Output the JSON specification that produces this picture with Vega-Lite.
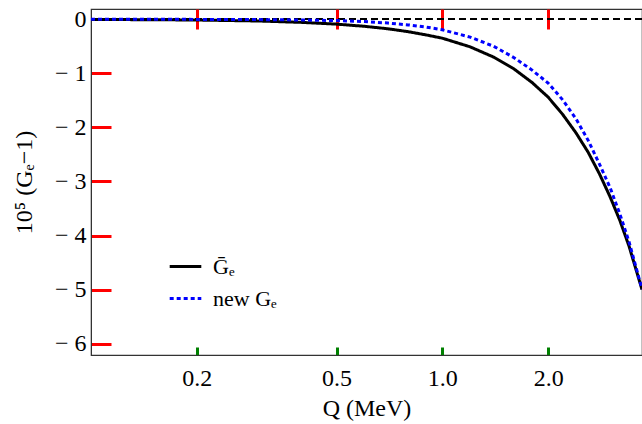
{
  "$schema": "https://vega.github.io/schema/vega-lite/v6.json",
  "width": 551,
  "height": 346,
  "autosize": "none",
  "padding": {"left": 91, "top": 9, "right": 0, "bottom": 69},
  "background": "white",
  "config": {
    "view": {"stroke": "#333", "strokeWidth": 1.2},
    "font": "Liberation Serif",
    "axis": {"grid": false, "labelFontSize": 24, "titleFontSize": 24, "titleFontWeight": "normal", "labelColor": "black", "titleColor": "black"},
    "legend": {"labelFont": "Liberation Serif", "labelFontSize": 22, "labelColor": "black"}
  },
  "data": {
    "values": [
      {"Q": 0.1, "series": "Ḡₑ", "v": -0.004},
      {"Q": 0.15, "series": "Ḡₑ", "v": -0.008},
      {"Q": 0.2, "series": "Ḡₑ", "v": -0.014},
      {"Q": 0.3, "series": "Ḡₑ", "v": -0.032},
      {"Q": 0.4, "series": "Ḡₑ", "v": -0.058},
      {"Q": 0.5, "series": "Ḡₑ", "v": -0.09},
      {"Q": 0.6, "series": "Ḡₑ", "v": -0.13},
      {"Q": 0.7, "series": "Ḡₑ", "v": -0.176},
      {"Q": 0.8, "series": "Ḡₑ", "v": -0.23},
      {"Q": 0.9, "series": "Ḡₑ", "v": -0.29},
      {"Q": 1.0, "series": "Ḡₑ", "v": -0.35},
      {"Q": 1.2, "series": "Ḡₑ", "v": -0.51},
      {"Q": 1.4, "series": "Ḡₑ", "v": -0.70},
      {"Q": 1.6, "series": "Ḡₑ", "v": -0.92},
      {"Q": 1.8, "series": "Ḡₑ", "v": -1.17},
      {"Q": 2.0, "series": "Ḡₑ", "v": -1.44},
      {"Q": 2.2, "series": "Ḡₑ", "v": -1.76},
      {"Q": 2.4, "series": "Ḡₑ", "v": -2.10},
      {"Q": 2.6, "series": "Ḡₑ", "v": -2.46},
      {"Q": 2.8, "series": "Ḡₑ", "v": -2.86},
      {"Q": 3.0, "series": "Ḡₑ", "v": -3.28},
      {"Q": 3.2, "series": "Ḡₑ", "v": -3.72},
      {"Q": 3.4, "series": "Ḡₑ", "v": -4.20},
      {"Q": 3.7, "series": "Ḡₑ", "v": -5.00},
      {"Q": 0.1, "series": "new Gₑ", "v": -0.0005},
      {"Q": 0.15, "series": "new Gₑ", "v": -0.001},
      {"Q": 0.2, "series": "new Gₑ", "v": -0.002},
      {"Q": 0.3, "series": "new Gₑ", "v": -0.006},
      {"Q": 0.4, "series": "new Gₑ", "v": -0.013},
      {"Q": 0.5, "series": "new Gₑ", "v": -0.025},
      {"Q": 0.6, "series": "new Gₑ", "v": -0.043},
      {"Q": 0.7, "series": "new Gₑ", "v": -0.07},
      {"Q": 0.8, "series": "new Gₑ", "v": -0.104},
      {"Q": 0.9, "series": "new Gₑ", "v": -0.145},
      {"Q": 1.0, "series": "new Gₑ", "v": -0.195},
      {"Q": 1.2, "series": "new Gₑ", "v": -0.33},
      {"Q": 1.4, "series": "new Gₑ", "v": -0.50},
      {"Q": 1.6, "series": "new Gₑ", "v": -0.71},
      {"Q": 1.8, "series": "new Gₑ", "v": -0.94},
      {"Q": 2.0, "series": "new Gₑ", "v": -1.18},
      {"Q": 2.2, "series": "new Gₑ", "v": -1.49},
      {"Q": 2.4, "series": "new Gₑ", "v": -1.84},
      {"Q": 2.6, "series": "new Gₑ", "v": -2.24},
      {"Q": 2.8, "series": "new Gₑ", "v": -2.68},
      {"Q": 3.0, "series": "new Gₑ", "v": -3.11},
      {"Q": 3.2, "series": "new Gₑ", "v": -3.60},
      {"Q": 3.4, "series": "new Gₑ", "v": -4.12},
      {"Q": 3.7, "series": "new Gₑ", "v": -4.99}
    ]
  },
  "layer": [
    {
      "mark": {"type": "line", "strokeOpacity": 0},
      "encoding": {
        "x": {
          "field": "Q", "type": "quantitative",
          "scale": {"type": "log", "domain": [0.1, 3.7], "nice": false},
          "axis": {"orient": "top", "title": null, "labels": false, "domain": false,
                   "values": [0.2, 0.5, 1, 2], "tickSize": 20, "offset": -20, "tickColor": "red", "tickWidth": 3}
        },
        "y": {
          "field": "v", "type": "quantitative",
          "scale": {"domain": [-6.21, 0.19], "nice": false, "zero": false},
          "axis": {"orient": "left", "title": null, "labels": false, "domain": false,
                   "values": [-6, -5, -4, -3, -2, -1, 0], "tickSize": 20, "offset": -20, "tickColor": "red", "tickWidth": 3}
        }
      }
    },
    {
      "mark": {"type": "line", "strokeOpacity": 0},
      "encoding": {
        "x": {
          "field": "Q", "type": "quantitative",
          "axis": {"orient": "bottom", "title": null, "labels": false, "domain": false,
                   "values": [0.2, 0.5, 1, 2], "tickSize": 8, "offset": -8, "tickColor": "green", "tickWidth": 3}
        },
        "y": {"field": "v", "type": "quantitative", "axis": null}
      }
    },
    {
      "mark": {"type": "rule", "strokeDash": [7, 4], "color": "black", "strokeWidth": 1},
      "encoding": {"y": {"datum": 0, "axis": null}}
    },
    {
      "mark": {"type": "line", "clip": true, "strokeWidth": 3},
      "encoding": {
        "x": {
          "field": "Q", "type": "quantitative",
          "axis": {
            "orient": "bottom", "title": "Q (MeV)",
            "values": [0.2, 0.5, 1, 2],
            "labelExpr": "format(datum.value, '.1f')",
            "ticks": false,
            "domainColor": "#333",
            "labelPadding": 11,
            "titlePadding": 6,
            "labelFlush": false,
            "labelOverlap": false
          }
        },
        "y": {
          "field": "v", "type": "quantitative",
          "axis": {
            "orient": "left",
            "title": "10⁵ (Gₑ−1)",
            "values": [-6, -5, -4, -3, -2, -1, 0],
            "labelExpr": "datum.value < -0.5 ? '− ' + format(abs(datum.value), 'd') : '0'",
            "ticks": false,
            "domainColor": "#333",
            "labelPadding": 5,
            "titlePadding": 18,
            "labelFlush": false,
            "labelOverlap": false
          }
        },
        "color": {
          "field": "series", "type": "nominal",
          "scale": {"domain": ["Ḡₑ", "new Gₑ"], "range": ["black", "#0000ff"]},
          "legend": {
            "orient": "none", "legendX": 77, "legendY": 240, "title": null,
            "symbolType": "stroke", "symbolSize": 1000, "symbolStrokeWidth": 3,
            "rowPadding": 3, "labelOffset": 10
          }
        },
        "strokeDash": {
          "field": "series", "type": "nominal",
          "scale": {"domain": ["Ḡₑ", "new Gₑ"], "range": [[1, 0], [4, 3]]},
          "legend": null
        }
      }
    }
  ],
  "resolve": {"axis": {"x": "independent", "y": "independent"}}
}
